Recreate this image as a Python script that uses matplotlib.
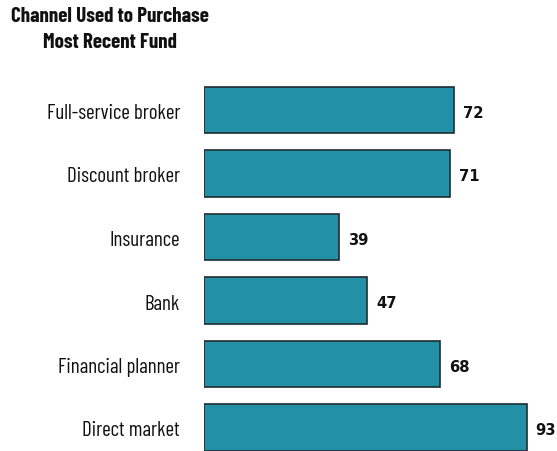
import matplotlib
matplotlib.use("Agg")
import matplotlib.pyplot as plt
from matplotlib import transforms

categories = ["Full-service broker", "Discount broker", "Insurance", "Bank",
              "Financial planner", "Direct market"]
values = [72, 71, 39, 47, 68, 93]
title_lines = ["Channel Used to Purchase", "Most Recent Fund"]

FONT = ["Barlow Condensed", "Roboto Condensed", "DejaVu Sans"]
NUM_FONT = ["DejaVu Sans"]
W, H = 557, 451

fig = plt.figure(figsize=(W / 100, H / 100), dpi=100)
ax = fig.add_axes([204 / W, -8.25 / H, 347 / W, 381 / H])

pos = list(range(len(categories)))
ax.barh(pos, values, height=0.74, color="#2290a6", edgecolor="#1e2d31",
        linewidth=1.2)
ax.set_xlim(0, 100)
ax.set_ylim(len(categories) - 0.5, -0.5)

# shift baselines a few pixels below each bar's centre line
lab_tr = transforms.offset_copy(ax.transData, fig=fig, x=0, y=-9, units="dots")
val_tr = transforms.offset_copy(ax.transData, fig=fig, x=0, y=-7.7, units="dots")
for p, name, v in zip(pos, categories, values):
    ax.text(v + 2.6, p, f"{v}", va="baseline", ha="left", fontsize=10.6,
            fontweight="bold", family=NUM_FONT, color="#111111", transform=val_tr)
    ax.text(-6.9, p, name, va="baseline", ha="right",
            fontsize=15.1, family=FONT, color="#111111", transform=lab_tr)

for s in ax.spines.values():
    s.set_visible(False)
ax.set_xticks([])
ax.set_yticks([])

for line, base in zip(title_lines, [21.7, 47.7]):
    fig.text(110 / W, 1 - base / H, line, ha="center", va="baseline",
             fontsize=15.2, fontweight="bold", family=FONT, color="#111111")

fig.savefig("out.png", dpi=100)
